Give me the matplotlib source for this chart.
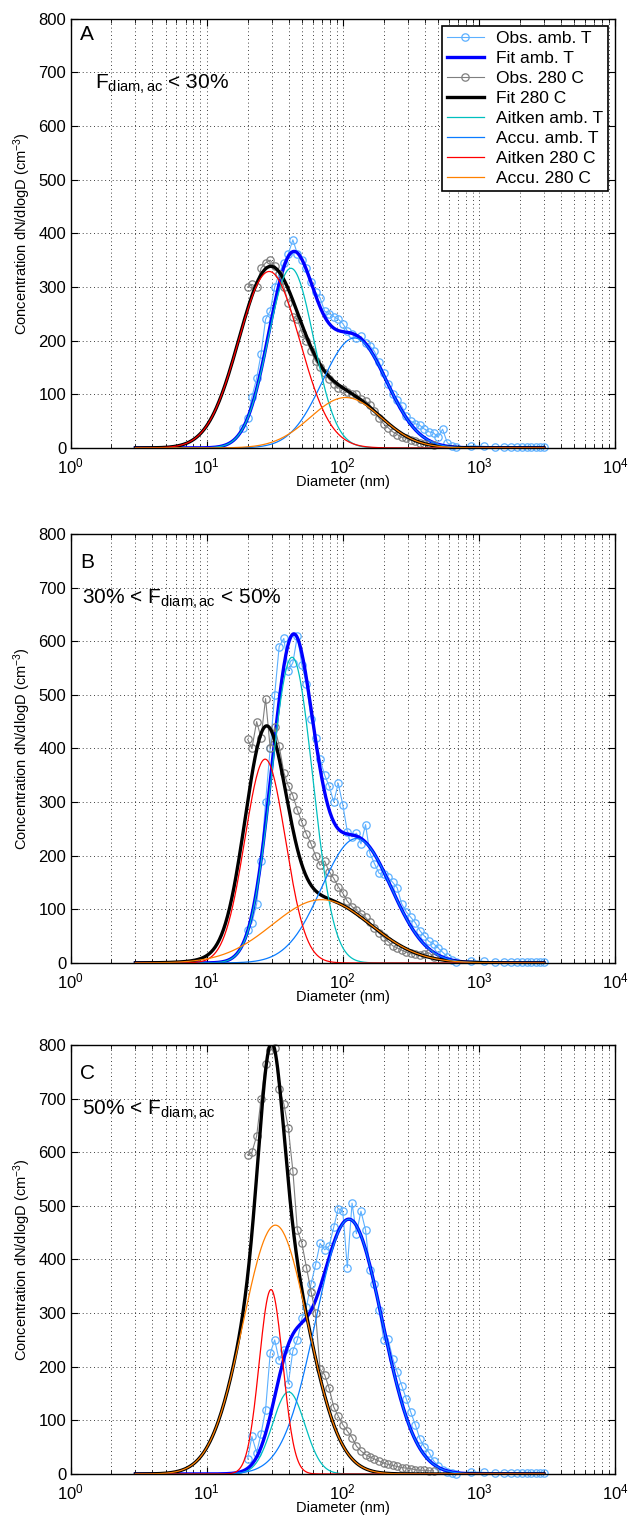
"""Aerosol number size distributions: ambient vs 280 C, three F_diam,ac classes."""

import matplotlib

matplotlib.use("Agg")
import matplotlib.pyplot as plt
import numpy as np

plt.rcParams["font.family"] = ["Liberation Sans", "DejaVu Sans"]
plt.rcParams["mathtext.fontset"] = "custom"
plt.rcParams["mathtext.rm"] = "Liberation Sans"
plt.rcParams["mathtext.it"] = "Liberation Sans:italic"
plt.rcParams["mathtext.default"] = "regular"

# SMPS bin diameters (nm) and the coarse bins that read ~0
d_smps = [15.8, 17.1, 18.5, 20.0, 21.5, 23.3, 25.1, 27.1, 29.3, 31.6,
          34.1, 36.9, 39.8, 43.0, 46.4, 50.1, 54.1, 58.5, 63.1, 68.1,
          73.6, 79.4, 85.8, 92.6, 100, 108, 117, 126, 136, 147,
          158, 171, 185, 200, 215, 233, 251, 271, 293, 316,
          341, 369, 398, 430, 464, 501, 541, 585, 631, 681]
d_coarse = [880, 1090, 1310, 1520, 1720, 1890, 2070, 2270, 2410, 2630, 2810, 2990]
n_coarse = [4, 3, 2, 2, 2, 2, 2, 2, 2, 2, 2, 2]

# observed dN/dlogD, panel A (amb starts at bin 2, 280 C at bin 3)
obs_amb_a = [38, 55, 95, 130, 175, 240, 255, 300, 325, 345, 362, 388, 362, 350,
             335, 310, 290, 280, 255, 250, 245, 240, 232, 218, 212, 205, 208, 195,
             190, 180, 160, 140, 120, 100, 90, 78, 60, 50, 45, 42, 35, 30, 28, 20,
             35, 10, 3, 1]
obs_hot_a = [300, 305, 300, 335, 345, 350, 340, 325, 300, 270, 245, 240, 215, 200,
             180, 162, 150, 140, 128, 120, 112, 110, 105, 100, 100, 92, 88, 80, 68,
             55, 45, 38, 30, 25, 20, 18, 15, 12, 10, 8, 7, 5]

# panel B (both start at bin 3)
obs_amb_b = [62, 75, 110, 190, 300, 400, 500, 590, 605, 545, 560, 610, 555, 520,
             455, 420, 380, 350, 330, 300, 335, 295, 245, 235, 242, 222, 258, 205,
             185, 167, 165, 160, 150, 140, 110, 95, 85, 75, 60, 50, 40, 36, 28, 20,
             12, 5, 2]
obs_hot_b = [417, 400, 450, 420, 493, 400, 440, 405, 355, 330, 312, 285, 262, 240,
             222, 200, 182, 190, 170, 158, 142, 130, 115, 105, 98, 92, 85, 76, 65,
             55, 48, 40, 32, 28, 24, 20, 18, 16, 15, 17, 19, 12]

# panel C (both start at bin 3)
obs_amb_c = [28, 70, 40, 75, 120, 225, 250, 212, 232, 168, 230, 250, 290, 312,
             355, 390, 430, 418, 425, 460, 495, 490, 385, 505, 448, 490, 455, 380,
             355, 305, 250, 252, 215, 190, 165, 140, 115, 92, 65, 50, 40, 25, 15, 8,
             3, 1, 0]
obs_hot_c = [595, 600, 630, 700, 765, 790, 795, 718, 690, 645, 565, 455, 430, 385,
             340, 300, 195, 185, 160, 125, 108, 92, 80, 68, 52, 43, 36, 32, 28, 24,
             20, 18, 16, 14, 12, 11, 10, 8, 7, 7, 6, 6]

# fitted log-normal modes: (peak dN/dlogD, median diameter nm, geometric sigma)
ait_amb = [(335, 41.6, 1.47), (570, 42.4, 1.42), (153, 40.0, 1.315)]
acc_amb = [(205, 122, 1.72), (232, 126, 1.80), (475, 111, 1.75)]
ait_hot = [(329, 28.8, 1.68), (380, 26.9, 1.41), (344, 29.7, 1.22)]
acc_hot = [(94, 105, 1.82), (118, 69.7, 2.29), (464, 32.0, 1.73)]

panel_letters = ["A", "B", "C"]
class_labels = [r"$F_{diam,ac}$ < 30%", r"30% < $F_{diam,ac}$ < 50%",
                r"50% < $F_{diam,ac}$"]
label_x = [0.045, 0.022, 0.022]
letter_y = [0.985, 0.955, 0.955]
starts_amb = [2, 3, 3]
starts_hot = [3, 3, 3]
obs_amb = [obs_amb_a, obs_amb_b, obs_amb_c]
obs_hot = [obs_hot_a, obs_hot_b, obs_hot_c]

C_OBS_AMB = "#5cb0ff"
C_FIT_AMB = "#0000ff"
C_OBS_HOT = "#7f7f7f"
C_FIT_HOT = "#000000"
C_AIT_AMB = "#00bfbf"
C_ACC_AMB = "#0a7cff"
C_AIT_HOT = "#ff0000"
C_ACC_HOT = "#ff8000"


def lognormal(d, mode):
    amp, dg, sg = mode
    return amp * np.exp(-np.log10(d / dg) ** 2 / (2 * np.log10(sg) ** 2))


d_fit = np.logspace(np.log10(3), np.log10(3000), 400)

fig = plt.figure(figsize=(6.29, 15.21), dpi=100)
bottoms = [0.7055, 0.3669, 0.0309]

for i in range(3):
    ax = fig.add_axes([0.1121, bottoms[i], 0.8657, 0.2821])

    sa, sh = starts_amb[i], starts_hot[i]
    d_amb = d_smps[sa:sa + len(obs_amb[i])] + d_coarse
    n_amb = obs_amb[i] + n_coarse
    d_hot = d_smps[sh:sh + len(obs_hot[i])]

    y_ait_amb = lognormal(d_fit, ait_amb[i])
    y_acc_amb = lognormal(d_fit, acc_amb[i])
    y_ait_hot = lognormal(d_fit, ait_hot[i])
    y_acc_hot = lognormal(d_fit, acc_hot[i])

    ax.plot(d_amb, n_amb, "-o", color=C_OBS_AMB, lw=0.8, ms=5.3, mfc="none",
            mew=0.9, clip_on=False, label="Obs. amb. T")
    ax.plot(d_fit, y_ait_amb + y_acc_amb, color=C_FIT_AMB, lw=2.4, label="Fit amb. T")
    ax.plot(d_hot, obs_hot[i], "-o", color=C_OBS_HOT, lw=0.8, ms=5.3, mfc="none",
            mew=0.9, clip_on=False, label="Obs. 280 C")
    ax.plot(d_fit, y_ait_hot + y_acc_hot, color=C_FIT_HOT, lw=2.4, label="Fit 280 C")
    ax.plot(d_fit, y_ait_amb, color=C_AIT_AMB, lw=0.9, label="Aitken amb. T")
    ax.plot(d_fit, y_acc_amb, color=C_ACC_AMB, lw=0.9, label="Accu. amb. T")
    ax.plot(d_fit, y_ait_hot, color=C_AIT_HOT, lw=0.9, label="Aitken 280 C")
    ax.plot(d_fit, y_acc_hot, color=C_ACC_HOT, lw=0.9, label="Accu. 280 C")

    ax.set_xscale("log")
    ax.set_xlim(1, 1e4)
    ax.set_ylim(0, 800)
    ax.set_yticks(np.arange(0, 801, 100))
    ax.grid(True, which="both", axis="x", color="k", lw=0.6, ls=(0, (1, 3.5)))
    ax.grid(True, which="major", axis="y", color="k", lw=0.6, ls=(0, (1, 3.5)))
    ax.tick_params(which="both", direction="in", top=True, right=True,
                   labelsize=12)
    ax.tick_params(axis="x", pad=6)
    ax.tick_params(axis="y", pad=3)
    ax.tick_params(which="major", length=5, width=0.8)
    ax.tick_params(which="minor", length=3, width=0.6)
    for sp in ax.spines.values():
        sp.set_linewidth(1.0)

    ax.set_xlabel("Diameter (nm)", fontsize=10.5, labelpad=-1)
    ax.set_ylabel("Concentration dN/dlogD (cm$^{-3}$)", fontsize=10.5, labelpad=4)

    ax.text(0.018, letter_y[i], panel_letters[i],
            transform=ax.transAxes, fontsize=15, va="top", ha="left")
    ax.text(label_x[i], 0.875, class_labels[i], transform=ax.transAxes,
            fontsize=15, va="top", ha="left")

    if i == 0:
        leg = ax.legend(loc="upper right", fontsize=12.5, handlelength=2.1,
                        borderaxespad=0.4, labelspacing=0.28, fancybox=False,
                        framealpha=1, edgecolor="k", borderpad=0.3,
                        handletextpad=0.7)
        leg.get_frame().set_linewidth(1.2)

fig.savefig("out.png", dpi=100)
